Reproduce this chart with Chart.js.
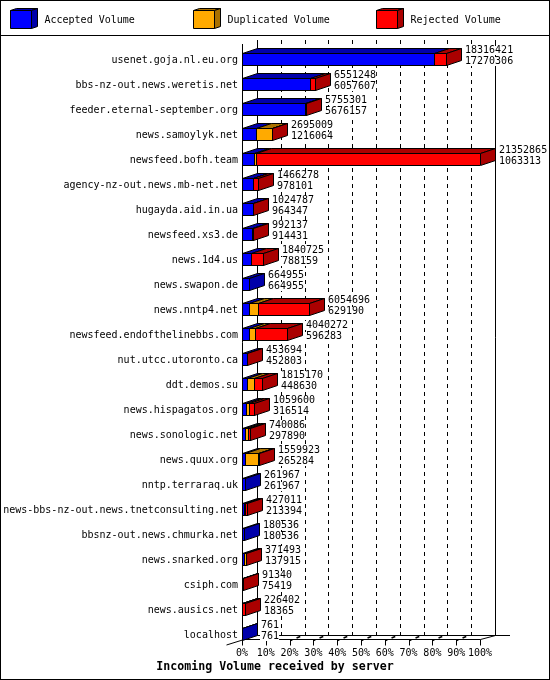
<!DOCTYPE html>
<html>
<head>
<meta charset="utf-8">
<script src="https://cdn.jsdelivr.net/npm/chart.js@4"></script>
<style>html,body{margin:0;padding:0;background:#fff}canvas{display:block}</style>
</head>
<body>
<canvas id="c" width="550" height="680"></canvas>
<script>
const servers = ["usenet.goja.nl.eu.org","bbs-nz-out.news.weretis.net","feeder.eternal-september.org","news.samoylyk.net","newsfeed.bofh.team","agency-nz-out.news.mb-net.net","hugayda.aid.in.ua","newsfeed.xs3.de","news.1d4.us","news.swapon.de","news.nntp4.net","newsfeed.endofthelinebbs.com","nut.utcc.utoronto.ca","ddt.demos.su","news.hispagatos.org","news.sonologic.net","news.quux.org","nntp.terraraq.uk","news-bbs-nz-out.news.tnetconsulting.net","bbsnz-out.news.chmurka.net","news.snarked.org","csiph.com","news.ausics.net","localhost"];
const totalVolume = [18316421,6551248,5755301,2695009,21352865,1466278,1024787,992137,1840725,664955,6054696,4040272,453694,1815170,1059600,740086,1559923,261967,427011,180536,371493,91340,226402,761];
const acceptedVolume = [17270306,6057607,5676157,1216064,1063313,978101,964347,914431,788159,664955,629190,596283,452803,448630,316514,297890,265284,261967,213394,180536,137915,75419,18365,761];
const duplicatedVolume = [0,0,0,1450000,230000,30000,0,0,0,0,850000,550000,0,600000,270000,250000,1200000,0,100000,0,190000,0,0,0];
const rejectedVolume = [1046115,493641,79144,28945,20059552,458177,60440,77706,1052566,0,4575506,2893989,891,766540,473086,192196,94639,0,113617,0,43578,15921,208037,0];
const seriesNames = ["Accepted Volume","Duplicated Volume","Rejected Volume"];
const frontColors = ["#0000ff","#ffaa00","#ff0000"];
const darkColors = ["#0000aa","#aa7100","#aa0000"];
const tickPercents = [0,10,20,30,40,50,60,70,80,90,100];
const tickLabels = ["0%","10%","20%","30%","40%","50%","60%","70%","80%","90%","100%"];
const axisMax = 21352865;
const titleText = "Incoming Volume received by server";
const MONO = "'DejaVu Sans Mono', 'Liberation Mono', monospace";
const DX = 15, DY = 5;

function poly(ctx, pts, fill) {
  ctx.beginPath();
  pts.forEach((p, i) => i ? ctx.lineTo(p[0], p[1]) : ctx.moveTo(p[0], p[1]));
  ctx.closePath();
  ctx.fillStyle = fill;
  ctx.fill();
  ctx.strokeStyle = "#000";
  ctx.lineWidth = 1;
  ctx.stroke();
}
function line(ctx, x1, y1, x2, y2, dash, width) {
  ctx.save();
  ctx.strokeStyle = "#000";
  ctx.lineWidth = width || 1;
  ctx.setLineDash(dash || []);
  ctx.beginPath();
  ctx.moveTo(x1, y1);
  ctx.lineTo(x2, y2);
  ctx.stroke();
  ctx.restore();
}

const box3d = {
  id: "box3d",
  afterDatasetsUpdate(chart) {
    // snap the bars to whole pixels so their outlines stay crisp
    chart.data.datasets.forEach((d, k) => {
      chart.getDatasetMeta(k).data.forEach(el => {
        el.x = Math.round(el.x) + 1;
        el.base = Math.round(el.base);
      });
    });
  },
  beforeDatasetsDraw(chart) {
    const ctx = chart.ctx, xs = chart.scales.x;
    const floorFront = 639.5, floorBack = 635.5, wallTop = 40;
    ctx.save();
    // back wall and floor grid, taken from the x scale
    tickPercents.forEach((p, i) => {
      const x = Math.round(xs.getPixelForValue(axisMax * p / 100)) + 0.5;
      const solid = i === 0 || i === tickPercents.length - 1;
      line(ctx, x + DX, wallTop, x + DX, floorBack, solid ? [] : [4, 4]);
      line(ctx, x, floorFront, x, floorFront + 6);
      if (!solid) line(ctx, x, floorFront + 1, x + DX, floorBack - 1, [2, 4.5, 4, 20], 1.6);
    });
    const x0 = Math.round(xs.getPixelForValue(0)) + 0.5;
    const x1 = Math.round(xs.getPixelForValue(axisMax)) + 0.5;
    line(ctx, x0, 44, x0, floorFront + 1);
    line(ctx, x0, floorFront, x1, floorFront);
    line(ctx, x0 + DX, floorBack, 510, floorBack);
    line(ctx, x1, floorFront, x1 + DX, floorBack);
    line(ctx, x0 - 16, floorFront + 5.5, x0, floorFront + 0.5);
    // top and side faces of the bars
    const metas = chart.data.datasets.map((d, k) => chart.getDatasetMeta(k));
    servers.forEach((s, r) => {
      let lastK = -1;
      metas.forEach((m, k) => {
        const v = chart.data.datasets[k].data[r];
        if (!v) return;
        lastK = k;
        const el = m.data[r];
        const t = el.y - el.height / 2 + 0.5;
        const b0 = el.base + 0.5, e0 = el.x - 0.5;
        poly(ctx, [[b0, t], [b0 + DX, t - DY], [e0 + DX, t - DY], [e0, t]], darkColors[k]);
      });
      if (lastK >= 0) {
        const el = metas[lastK].data[r];
        const t = el.y - el.height / 2 + 0.5, bt = el.y + el.height / 2 - 0.5, e0 = el.x - 0.5;
        poly(ctx, [[e0, t], [e0 + DX, t - DY], [e0 + DX, bt - DY], [e0, bt]], darkColors[lastK]);
      }
    });
    ctx.restore();
  },
  afterDatasetsDraw(chart) {
    const ctx = chart.ctx;
    const last = chart.getDatasetMeta(2).data;
    ctx.save();
    ctx.font = "10px " + MONO;
    ctx.textBaseline = "middle";
    ctx.textAlign = "left";
    servers.forEach((s, r) => {
      const el = last[r];
      const x = el.x - 1 + DX + 4;
      [[totalVolume[r], el.y - 9], [acceptedVolume[r], el.y + 2]].forEach(([v, y]) => {
        const txt = String(v);
        ctx.fillStyle = "#fff";
        ctx.fillRect(x - 1, Math.round(y - 5), ctx.measureText(txt).width + 1, 9);
        ctx.fillStyle = "#000";
        ctx.fillText(txt, x, y);
      });
    });
    ctx.restore();
  },
  afterDraw(chart) {
    const ctx = chart.ctx;
    ctx.save();
    // legend band
    const lx = [10, 193, 376];
    seriesNames.forEach((name, k) => {
      const x = lx[k] + 0.5, y = 10.5, w = 21, h = 18, dx = 6, dy = 2;
      poly(ctx, [[x, y], [x + dx, y - dy], [x + w + dx, y - dy], [x + w, y]], darkColors[k]);
      poly(ctx, [[x + w, y], [x + w + dx, y - dy], [x + w + dx, y + h - dy], [x + w, y + h]], darkColors[k]);
      poly(ctx, [[x, y], [x + w, y], [x + w, y + h], [x, y + h]], frontColors[k]);
      ctx.fillStyle = "#000";
      ctx.font = "10px " + MONO;
      ctx.textAlign = "left";
      ctx.textBaseline = "middle";
      ctx.fillText(name, lx[k] + 34.5, 20);
    });
    line(ctx, 0, 35.5, 550, 35.5);
    ctx.strokeStyle = "#000";
    ctx.lineWidth = 1;
    ctx.strokeRect(0.5, 0.5, 549, 679);
    ctx.restore();
  }
};

new Chart(document.getElementById("c"), {
  type: "bar",
  data: {
    labels: servers,
    datasets: [
      { label: seriesNames[0], data: acceptedVolume, backgroundColor: frontColors[0] },
      { label: seriesNames[1], data: duplicatedVolume, backgroundColor: frontColors[1] },
      { label: seriesNames[2], data: rejectedVolume, backgroundColor: frontColors[2] }
    ]
  },
  options: {
    indexAxis: "y",
    responsive: false,
    animation: false,
    devicePixelRatio: 1,
    events: [],
    layout: { padding: { top: 47, right: 0, left: 0, bottom: 0 } },
    datasets: { bar: { barThickness: 13, borderColor: "#000", borderWidth: 1, borderSkipped: false, inflateAmount: 0 } },
    plugins: {
      legend: { display: false },
      tooltip: { enabled: false },
      title: {
        display: true,
        position: "bottom",
        text: titleText,
        color: "#000",
        padding: { top: 1, bottom: 6 },
        font: { family: MONO, size: 11.6, weight: "bold", lineHeight: "14px" }
      }
    },
    scales: {
      x: {
        stacked: true,
        min: 0,
        max: axisMax,
        afterBuildTicks(s) { s.ticks = tickPercents.map(p => ({ value: axisMax * p / 100 })); },
        afterFit(s) { s.height = 12; },
        grid: { display: false, drawTicks: false },
        border: { display: false },
        ticks: {
          autoSkip: false,
          maxRotation: 0,
          padding: 0,
          color: "#000",
          font: { family: MONO, size: 10 },
          callback(v, i) { return tickLabels[i]; }
        }
      },
      y: {
        stacked: true,
        afterFit(s) { s.width = 242; },
        grid: { display: false, drawTicks: false },
        border: { display: false },
        ticks: {
          autoSkip: false,
          padding: 4,
          labelOffset: 1,
          color: "#000",
          font: { family: MONO, size: 10 }
        }
      },
      spacer: {
        type: "linear",
        axis: "y",
        position: "right",
        afterFit(s) { s.width = 70; },
        grid: { display: false, drawTicks: false },
        border: { display: false },
        ticks: { display: false }
      }
    }
  },
  plugins: [box3d]
});
</script>
</body>
</html>
